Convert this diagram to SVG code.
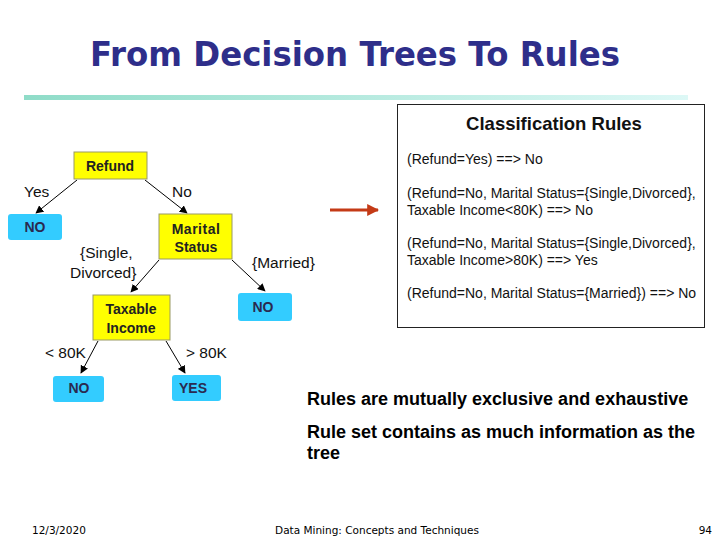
<svg xmlns="http://www.w3.org/2000/svg" width="720" height="540" viewBox="0 0 720 540">
<defs>
<linearGradient id="rule" x1="0" y1="0" x2="1" y2="0">
<stop offset="0" stop-color="#8FDCC8"/>
<stop offset="1" stop-color="#DDF8F6"/>
</linearGradient>
<marker id="ah" viewBox="0 0 10 10" refX="9" refY="5" markerWidth="8" markerHeight="8" markerUnits="userSpaceOnUse" orient="auto">
<path d="M0,0 L10,5 L0,10 z" fill="#000"/>
</marker>
<marker id="rh" viewBox="0 0 10 10" refX="9" refY="5" markerWidth="4" markerHeight="4" orient="auto">
<path d="M0,0 L10,5 L0,10 z" fill="#C43A16"/>
</marker>
</defs>
<style>
.t{font-family:"Liberation Sans",Arial,sans-serif;}
.title{font-family:"DejaVu Sans",Tahoma,sans-serif;font-weight:bold;font-size:33px;fill:#2E2E8A;}
.dec{fill:#FFFF00;stroke:#999966;stroke-width:1;}
.leaf{fill:#33CCFF;}
.nt{font-family:"Liberation Sans",Arial,sans-serif;font-weight:bold;font-size:14px;fill:#222;text-anchor:middle;}
.lt{font-family:"Liberation Sans",Arial,sans-serif;font-weight:bold;font-size:14px;fill:#2A2A50;text-anchor:middle;}
.el{font-family:"Liberation Sans",Arial,sans-serif;font-size:15.5px;fill:#111;}
.edge{stroke:#000;stroke-width:1;fill:none;marker-end:url(#ah);}
.rt{font-family:"Liberation Sans",Arial,sans-serif;font-size:14px;fill:#111;}
.bt{font-family:"Liberation Sans",Arial,sans-serif;font-weight:bold;font-size:18px;fill:#000;}
.ft{font-family:"DejaVu Sans",Tahoma,sans-serif;font-size:10.5px;fill:#000;}
</style>
<rect width="720" height="540" fill="#fff"/>
<text class="title" x="355" y="66" text-anchor="middle" textLength="530" lengthAdjust="spacingAndGlyphs">From Decision Trees To Rules</text>
<rect x="24" y="95" width="664" height="5" fill="url(#rule)"/>

<g id="connectors">
<line class="edge" x1="77" y1="180" x2="36" y2="213"/>
<line class="edge" x1="145" y1="180" x2="187" y2="213"/>
<line class="edge" x1="159" y1="260" x2="131" y2="292"/>
<line class="edge" x1="232" y1="260" x2="265" y2="291"/>
<line class="edge" x1="98" y1="341" x2="81" y2="373"/>
<line class="edge" x1="166" y1="341" x2="185" y2="373"/>
<line x1="330" y1="210" x2="378" y2="210" stroke="#C43A16" stroke-width="3" marker-end="url(#rh)"/>
<text class="el" x="24" y="197">Yes</text>
<text class="el" x="172" y="197">No</text>
<text class="el" x="80" y="258">{Single,</text>
<text class="el" x="70" y="278">Divorced}</text>
<text class="el" x="252" y="268">{Married}</text>
<text class="el" x="45" y="358">&lt; 80K</text>
<text class="el" x="186" y="358">&gt; 80K</text>
</g>

<g id="refund">
<rect class="dec" x="74" y="152" width="73" height="27"/>
<text class="nt" x="110" y="171">Refund</text>
</g>
<g id="no1">
<rect class="leaf" x="8" y="214" width="54" height="26" rx="3"/>
<text class="lt" x="35" y="232">NO</text>
</g>
<g id="marital">
<rect class="dec" x="159" y="214" width="73" height="45"/>
<text class="nt" x="196" y="234" letter-spacing="0.5">Marital</text>
<text class="nt" x="196" y="252">Status</text>
</g>
<g id="taxable">
<rect class="dec" x="93" y="295" width="77" height="45"/>
<text class="nt" x="131" y="314">Taxable</text>
<text class="nt" x="131" y="333">Income</text>
</g>
<g id="no2">
<rect class="leaf" x="238" y="293" width="54" height="28" rx="3"/>
<text class="lt" x="263" y="312">NO</text>
</g>
<g id="no3">
<rect class="leaf" x="53" y="376" width="51" height="26" rx="3"/>
<text class="lt" x="79" y="393">NO</text>
</g>
<g id="yes">
<rect class="leaf" x="172" y="375" width="49" height="26" rx="3"/>
<text class="lt" x="193" y="393">YES</text>
</g>

<g id="rules">
<rect x="397.5" y="104.5" width="307" height="223" fill="#fff" stroke="#222" stroke-width="1"/>
<text class="t" x="554" y="130" text-anchor="middle" font-weight="bold" font-size="18.5" fill="#111">Classification Rules</text>
<text class="rt" x="407" y="164">(Refund=Yes) ==&gt; No</text>
<text class="rt" x="407" y="198">(Refund=No, Marital Status={Single,Divorced},</text>
<text class="rt" x="407" y="215">Taxable Income&lt;80K) ==&gt; No</text>
<text class="rt" x="407" y="248">(Refund=No, Marital Status={Single,Divorced},</text>
<text class="rt" x="407" y="265">Taxable Income&gt;80K) ==&gt; Yes</text>
<text class="rt" x="407" y="298">(Refund=No, Marital Status={Married}) ==&gt; No</text>
</g>

<text class="bt" x="307" y="405">Rules are mutually exclusive and exhaustive</text>
<text class="bt" x="307" y="438">Rule set contains as much information as the</text>
<text class="bt" x="307" y="459">tree</text>

<text class="ft" x="32" y="534">12/3/2020</text>
<text class="ft" x="377" y="534" text-anchor="middle">Data Mining: Concepts and Techniques</text>
<text class="ft" x="712" y="534" text-anchor="end">94</text>
</svg>
